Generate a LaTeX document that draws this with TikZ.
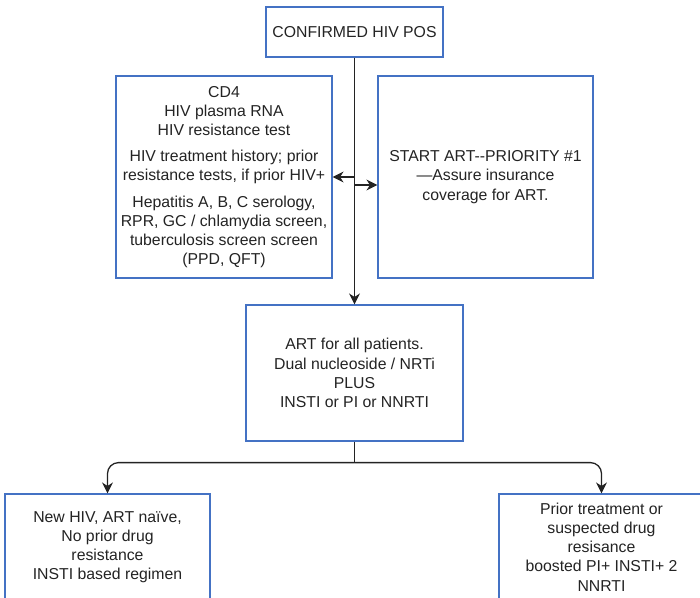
\documentclass[tikz,border=0pt]{standalone}
\usepackage{fontspec}
\setmainfont{Liberation Sans}
\usepackage{tikz}
\usetikzlibrary{arrows.meta}
\definecolor{boxblue}{RGB}{68,114,196}
\definecolor{ink}{RGB}{35,35,35}
\tikzset{
  flowbox/.style={draw=boxblue, line width=1.2pt, align=center, inner sep=0pt, text=ink},
  flowarrow/.style={draw=ink, line width=1.3pt, -{Stealth[length=11pt,width=11pt]}}
}
\newcommand{\groupgap}{\\[7pt]}

\begin{document}
\begin{tikzpicture}[x=1pt,y=-1pt,font=\fontsize{15.8}{19.2}\selectfont]
\useasboundingbox (0,0) rectangle (700,597);
\clip (0,0) rectangle (700,597);
% boxes
\node[flowbox, minimum width=177pt, minimum height=50pt] (pos) at (354.5,32) {CONFIRMED HIV POS};
\node[flowbox, minimum width=216pt, minimum height=202pt] (tests) at (224,177) {CD4\\HIV plasma RNA\\HIV resistance test\groupgap HIV treatment history; prior\\resistance tests, if prior HIV+\groupgap Hepatitis A, B, C serology,\\RPR, GC / chlamydia screen,\\tuberculosis screen screen\\(PPD, QFT)};
\node[flowbox, minimum width=215pt, minimum height=202pt] (start) at (485.5,177) {START ART{-}{-}PRIORITY \#1\\—Assure insurance\\coverage for ART.};
\node[flowbox, minimum width=217pt, minimum height=136pt] (art) at (354.5,373) {ART for all patients.\\Dual nucleoside / NRTi\\PLUS\\INSTI or PI or NNRTI};
\node[flowbox, minimum width=205pt, minimum height=106pt] (naive) at (107.5,547) {New HIV, ART naïve,\\No prior drug\\resistance\\INSTI based regimen};
\node[flowbox, minimum width=205pt, minimum height=106pt] (prior) at (601.5,547) {Prior treatment or\\suspected drug\\resisance\\boosted PI+ INSTI+ 2\\NNRTI};
% connectors
\draw[flowarrow] (pos) -- (art);
\coordinate (jl) at (355,177);
\coordinate (jr) at (355,185);
\draw[flowarrow] (jl) -- (tests);
\draw[flowarrow] (jr) -- (jr -| start.west);
\draw[draw=ink, line width=1.3pt] (art.south) -- ++(0,21) coordinate (split);
\draw[flowarrow, rounded corners=11pt] (split) -| (naive.north);
\draw[flowarrow, rounded corners=11pt] (split) -| (prior.north);
\end{tikzpicture}
\end{document}
